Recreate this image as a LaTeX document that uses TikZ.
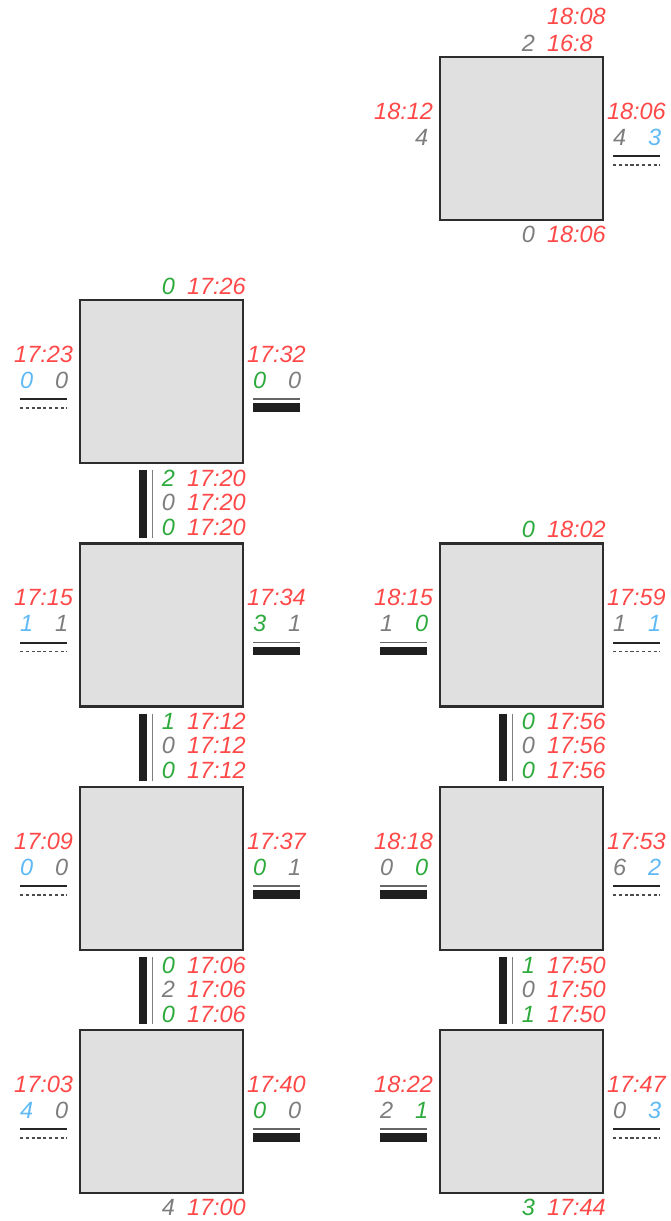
\documentclass[tikz,border=0pt]{standalone}
\usepackage{fontspec}
\setmainfont{Liberation Sans}
\usetikzlibrary{calc}
\definecolor{cred}{RGB}{255,72,72}
\definecolor{cgreen}{RGB}{45,170,60}
\definecolor{cblue}{RGB}{95,185,245}
\definecolor{cgray}{RGB}{125,125,125}
\definecolor{boxfill}{RGB}{224,224,224}
\definecolor{boxline}{RGB}{45,45,45}

\newcommand\labL[6]{%
  \node[lab,cred,anchor=base east] (#1-lt) at ($(#1.north west)+(-7,62)$) {#2};
  \node[lab,#3,anchor=base west] (#1-la) at ($(#1.north west)+(-60,88)$) {#4};
  \node[lab,#5,anchor=base west] (#1-lb) at ($(#1.north west)+(-25,88)$) {#6};}
\newcommand\labR[6]{%
  \node[lab,cred,anchor=base west] (#1-rt) at ($(#1.north east)+(4,62)$) {#2};
  \node[lab,#3,anchor=base west] (#1-ra) at ($(#1.north east)+(10,88)$) {#4};
  \node[lab,#5,anchor=base west] (#1-rb) at ($(#1.north east)+(45,88)$) {#6};}
\newcommand\indSD[2]{%
  \draw[solidln] ($(#1)+(#2,99)$) -- ++(47,0);
  \draw[dashln] ($(#1)+(#2,108)$) -- ++(47,0);}
\newcommand\indDB[2]{%
  \draw[thinln] ($(#1)+(#2,99)$) -- ++(47,0);
  \draw[barln] ($(#1)+(#2,107.5)$) -- ++(47,0);}
\newcommand\labT[4]{%
  \node[lab,#2,anchor=base east] (#1-tn) at ($(#1.north west)+(95,-6)$) {#3};
  \node[lab,cred,anchor=base west] (#1-tt) at ($(#1.north west)+(107,-6)$) {#4};}
\newcommand\labB[4]{%
  \node[lab,#2,anchor=base east] (#1-bn) at ($(#1.south west)+(95,22)$) {#3};
  \node[lab,cred,anchor=base west] (#1-bt) at ($(#1.south west)+(107,22)$) {#4};}
\newcommand\conn[9]{%
  \draw[vbar] ($(#1.south west)+(63,7)$) -- ($(#2.north west)+(63,-6)$);
  \draw[vthin] ($(#1.south west)+(72.5,7)$) -- ($(#2.north west)+(72.5,-6)$);
  \node[lab,#4,anchor=base east] (#1-c1n) at ($(#1.south west)+(95,23)$) {#5};
  \node[lab,cred,anchor=base west] (#1-c1t) at ($(#1.south west)+(107,23)$) {#3};
  \node[lab,#6,anchor=base east] (#1-c2n) at ($(#1.south west)+(95,47)$) {#7};
  \node[lab,cred,anchor=base west] (#1-c2t) at ($(#1.south west)+(107,47)$) {#3};
  \node[lab,#8,anchor=base east] (#1-c3n) at ($(#1.south west)+(95,72)$) {#9};
  \node[lab,cred,anchor=base west] (#1-c3t) at ($(#1.south west)+(107,72)$) {#3};}

\begin{document}
\begin{tikzpicture}[x=1pt,y=-1pt,
  boxst/.style={draw=boxline,fill=boxfill,line width=2.4pt,minimum width=163pt,minimum height=163pt,inner sep=0pt,outer sep=0pt},
  lab/.style={inner sep=0pt,outer sep=0pt,font=\fontsize{23.5}{26}\selectfont\itshape},
  solidln/.style={draw=black!85,line width=2pt},
  dashln/.style={draw=black!70,line width=1.6pt,dash pattern=on 3.2pt off 2.6pt},
  thinln/.style={draw=black!60,line width=1.8pt},
  barln/.style={draw=black!88,line width=8.5pt},
  vbar/.style={draw=black!88,line width=8.5pt},
  vthin/.style={draw=cgray,line width=1.8pt}]
\useasboundingbox (0,0) rectangle (671,1221);

% boxes
\node[boxst] (R1) at (521.5,138.5) {};
\node[boxst] (L1) at (161.5,381.5) {};
\node[boxst] (L2) at (161.5,625) {};
\node[boxst] (L3) at (161.5,868.5) {};
\node[boxst] (L4) at (161.5,1111.5) {};
\node[boxst] (R2) at (521.5,625) {};
\node[boxst] (R3) at (521.5,868.5) {};
\node[boxst] (R4) at (521.5,1111.5) {};

% top-right box R1
\node[lab,cred,anchor=base west] (R1-tt2) at ($(R1.north west)+(107,-33)$) {18:08};
\labT{R1}{cgray}{2}{16:8}
\node[lab,cred,anchor=base east] (R1-lt) at ($(R1.north west)+(-7,62)$) {18:12};
\node[lab,cgray,anchor=base west] (R1-lb) at ($(R1.north west)+(-25,88)$) {4};
\labR{R1}{18:06}{cgray}{4}{cblue}{3}
\indSD{R1.north east}{10}
\labB{R1}{cgray}{0}{18:06}

% left column
\labT{L1}{cgreen}{0}{17:26}
\labL{L1}{17:23}{cblue}{0}{cgray}{0}
\indSD{L1.north west}{-60}
\labR{L1}{17:32}{cgreen}{0}{cgray}{0}
\indDB{L1.north east}{10}
\conn{L1}{L2}{17:20}{cgreen}{2}{cgray}{0}{cgreen}{0}

\labL{L2}{17:15}{cblue}{1}{cgray}{1}
\indSD{L2.north west}{-60}
\labR{L2}{17:34}{cgreen}{3}{cgray}{1}
\indDB{L2.north east}{10}
\conn{L2}{L3}{17:12}{cgreen}{1}{cgray}{0}{cgreen}{0}

\labL{L3}{17:09}{cblue}{0}{cgray}{0}
\indSD{L3.north west}{-60}
\labR{L3}{17:37}{cgreen}{0}{cgray}{1}
\indDB{L3.north east}{10}
\conn{L3}{L4}{17:06}{cgreen}{0}{cgray}{2}{cgreen}{0}

\labL{L4}{17:03}{cblue}{4}{cgray}{0}
\indSD{L4.north west}{-60}
\labR{L4}{17:40}{cgreen}{0}{cgray}{0}
\indDB{L4.north east}{10}
\labB{L4}{cgray}{4}{17:00}

% right column
\labT{R2}{cgreen}{0}{18:02}
\labL{R2}{18:15}{cgray}{1}{cgreen}{0}
\indDB{R2.north west}{-60}
\labR{R2}{17:59}{cgray}{1}{cblue}{1}
\indSD{R2.north east}{10}
\conn{R2}{R3}{17:56}{cgreen}{0}{cgray}{0}{cgreen}{0}

\labL{R3}{18:18}{cgray}{0}{cgreen}{0}
\indDB{R3.north west}{-60}
\labR{R3}{17:53}{cgray}{6}{cblue}{2}
\indSD{R3.north east}{10}
\conn{R3}{R4}{17:50}{cgreen}{1}{cgray}{0}{cgreen}{1}

\labL{R4}{18:22}{cgray}{2}{cgreen}{1}
\indDB{R4.north west}{-60}
\labR{R4}{17:47}{cgray}{0}{cblue}{3}
\indSD{R4.north east}{10}
\labB{R4}{cgreen}{3}{17:44}
\end{tikzpicture}
\end{document}
